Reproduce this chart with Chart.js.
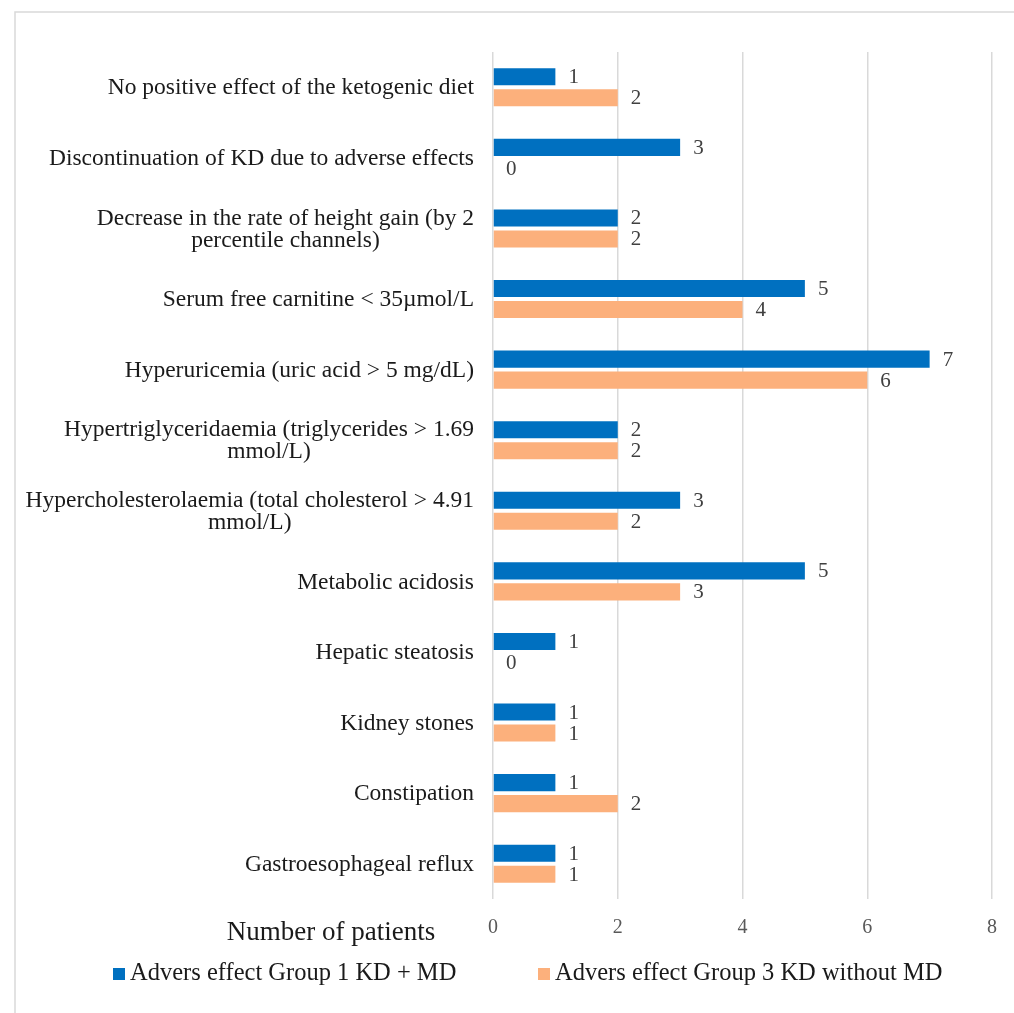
<!DOCTYPE html>
<html>
<head>
<meta charset="utf-8">
<title>Adverse effects</title>
<script src="https://cdn.jsdelivr.net/npm/chart.js@4.4.1/dist/chart.umd.min.js"></script>
<style>
    body { margin: 0; background: #ffffff; }
    #wrap { width: 1014px; height: 1013px; }
</style>
</head>
<body>
<div id="wrap"><canvas id="adverse_chart" width="1014" height="1013"></canvas></div>
<script>
// categories, top to bottom (multi-line labels as arrays)
const categories = [
    'No positive effect of the ketogenic diet',
    'Discontinuation of KD due to adverse effects',
    ['Decrease in the rate of height gain (by 2', 'percentile channels)'],
    'Serum free carnitine < 35\u00b5mol/L',
    'Hyperuricemia (uric acid > 5 mg/dL)',
    ['Hypertriglyceridaemia (triglycerides > 1.69', 'mmol/L)'],
    ['Hypercholesterolaemia (total cholesterol > 4.91', 'mmol/L)'],
    'Metabolic acidosis',
    'Hepatic steatosis',
    'Kidney stones',
    'Constipation',
    'Gastroesophageal reflux'
];
const group1 = [1, 3, 2, 5, 7, 2, 3, 5, 1, 1, 1, 1];
const group3 = [2, 0, 2, 4, 6, 2, 2, 3, 0, 1, 2, 1];
const seriesNames = ['Advers effect Group 1 KD + MD', 'Advers effect Group 3 KD without MD'];
const xMax = 8;
const xStep = 2;
const axisTitle = 'Number of patients';

const SERIF = '"Liberation Serif", "Times New Roman", serif';
const BLUE = '#0070C0';
const ORANGE = '#FCB07C';

// frame, category labels, value labels, axis title and legend
const extras = {
    id: 'extras',
    beforeDraw(chart) {
        const ctx = chart.ctx;
        ctx.save();
        ctx.strokeStyle = '#d9d9d9';
        ctx.lineWidth = 1.5;
        ctx.beginPath();
        ctx.moveTo(15, 1013);
        ctx.lineTo(15, 12);
        ctx.lineTo(1014, 12);
        ctx.stroke();
        ctx.restore();
    },
    afterDatasetsDraw(chart) {
        const ctx = chart.ctx;
        const yScale = chart.scales.y;
        ctx.save();

        // value labels at the end of each bar
        ctx.font = '21px ' + SERIF;
        ctx.fillStyle = '#404040';
        ctx.textAlign = 'left';
        ctx.textBaseline = 'middle';
        chart.data.datasets.forEach(function (ds, di) {
            chart.getDatasetMeta(di).data.forEach(function (bar, i) {
                ctx.fillText(String(ds.data[i]), bar.x + 13, bar.y + 1);
            });
        });

        // category labels: block right-aligned, lines centred inside it
        ctx.font = '23.5px ' + SERIF;
        ctx.fillStyle = '#1a1a1a';
        ctx.textAlign = 'center';
        const right = 474;
        const lh = 22;
        categories.forEach(function (lab, i) {
            const lines = Array.isArray(lab) ? lab : [lab];
            let w = 0;
            lines.forEach(function (l) { w = Math.max(w, ctx.measureText(l).width); });
            const cx = right - w / 2;
            const cy = yScale.getPixelForValue(i);
            lines.forEach(function (l, k) {
                ctx.fillText(l, cx, cy + (k - (lines.length - 1) / 2) * lh + 1);
            });
        });

        // axis title
        ctx.font = '27px ' + SERIF;
        ctx.fillText(axisTitle, 331, 933);

        // legend
        const colors = [BLUE, ORANGE];
        const starts = [113, 538];
        ctx.font = '24.5px ' + SERIF;
        ctx.textAlign = 'left';
        seriesNames.forEach(function (name, i) {
            ctx.fillStyle = colors[i];
            ctx.fillRect(starts[i], 968, 12, 12);
            ctx.fillStyle = '#1a1a1a';
            ctx.fillText(name, starts[i] + 17, 974);
        });
        ctx.restore();
    }
};

new Chart(document.getElementById('adverse_chart'), {
    type: 'bar',
    data: {
        labels: categories,
        datasets: [
            {
                label: seriesNames[0],
                backgroundColor: BLUE,
                data: group1,
                categoryPercentage: 0.595,
                barPercentage: 0.81
            },
            {
                label: seriesNames[1],
                backgroundColor: ORANGE,
                data: group3,
                categoryPercentage: 0.595,
                barPercentage: 0.81
            }
        ]
    },
    options: {
        indexAxis: 'y',
        responsive: false,
        animation: false,
        layout: {
            padding: { top: 52, right: 21, bottom: 74, left: 0 }
        },
        plugins: {
            legend: { display: false },
            tooltip: { enabled: false }
        },
        scales: {
            x: {
                min: 0,
                max: xMax,
                afterFit: function (scale) { scale.height = 40; },
                ticks: {
                    stepSize: xStep,
                    padding: 17,
                    color: '#595959',
                    font: { family: SERIF, size: 20 }
                },
                grid: { color: '#d9d9d9', lineWidth: 1.5, drawTicks: false },
                border: { display: false }
            },
            y: {
                ticks: { display: false },
                grid: { display: false },
                border: { display: false },
                afterFit: function (scale) { scale.width = 493; }
            }
        }
    },
    plugins: [extras]
});
</script>
</body>
</html>
